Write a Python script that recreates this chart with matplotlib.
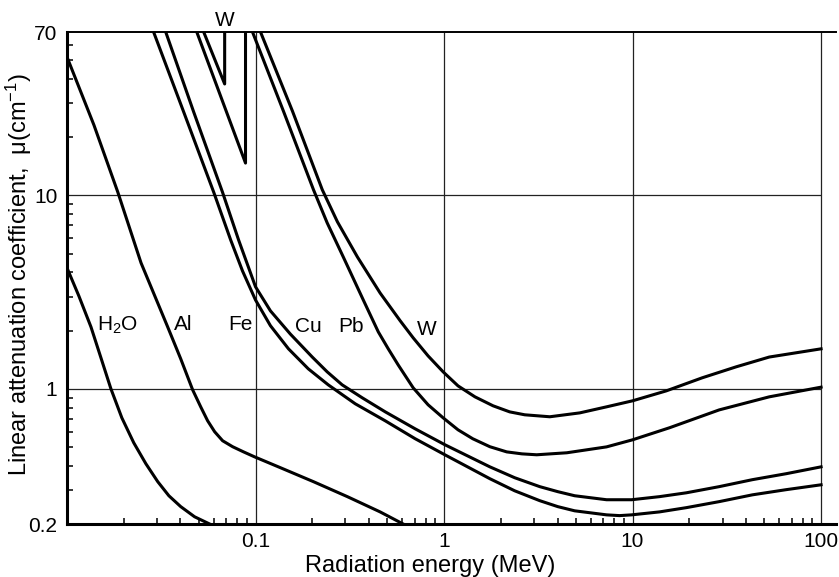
import matplotlib
matplotlib.use("Agg")
import matplotlib.pyplot as plt
from matplotlib.ticker import FixedLocator, LogLocator, NullFormatter

plt.rcParams["font.family"] = ["Liberation Sans", "DejaVu Sans"]
plt.rcParams["mathtext.fontset"] = "custom"
plt.rcParams["mathtext.rm"] = "Liberation Sans"
plt.rcParams["mathtext.it"] = "Liberation Sans:italic"
plt.rcParams["mathtext.default"] = "regular"

# ---- data (energy in MeV, mu in cm^-1) ----
h2o_e = [0.010, 0.01156, 0.0134, 0.01514, 0.0171, 0.01954, 0.0226, 0.0262,
         0.0303, 0.0347, 0.0401, 0.0475, 0.0571]
h2o_mu = [4.22, 3.02, 2.09, 1.446, 1.00, 0.708, 0.526, 0.410,
          0.331, 0.280, 0.246, 0.218, 0.200]

al_e = [0.010, 0.0139, 0.0186, 0.0247, 0.0342, 0.0401, 0.0464, 0.0512, 0.0557,
        0.0607, 0.0669, 0.0756, 0.0864, 0.0988, 0.1355, 0.203, 0.307, 0.458, 0.607]
al_mu = [52.0, 23.1, 10.4, 4.48, 2.09, 1.43, 0.988, 0.807, 0.684,
         0.600, 0.539, 0.502, 0.472, 0.445, 0.391, 0.331, 0.277, 0.231, 0.200]

fe_e = [0.0288, 0.0416, 0.0600, 0.0738, 0.0853, 0.100, 0.120, 0.1496, 0.1905,
        0.243, 0.338, 0.488, 0.703, 1.01, 1.75, 2.37, 3.22, 4.01, 4.93, 7.28,
        8.53, 9.88, 13.9, 19.3, 28.8, 43.2, 65.3, 100]
fe_mu = [70.0, 27.0, 10.4, 5.89, 4.07, 2.88, 2.12, 1.61, 1.269,
         1.049, 0.837, 0.683, 0.552, 0.456, 0.343, 0.297, 0.264, 0.246, 0.234, 0.223,
         0.221, 0.223, 0.231, 0.243, 0.261, 0.283, 0.301, 0.319]

cu_e = [0.0334, 0.0470, 0.0668, 0.0813, 0.100, 0.120, 0.153, 0.200, 0.240,
        0.288, 0.368, 0.488, 0.703, 1.01, 1.75, 2.37, 3.22, 4.01, 4.93, 7.28,
        9.88, 13.9, 19.3, 28.8, 43.2, 65.3, 100]
cu_mu = [70.0, 27.0, 10.4, 5.89, 3.37, 2.53, 1.92, 1.46, 1.224,
         1.049, 0.899, 0.760, 0.621, 0.514, 0.395, 0.347, 0.312, 0.294, 0.280, 0.267,
         0.267, 0.277, 0.290, 0.312, 0.339, 0.364, 0.395]

# Pb: below and above the K edge
pb_lo_e = [0.0488, 0.0885, 0.0885]
pb_lo_mu = [70.0, 14.7, 70.0]
pb_hi_e = [0.0964, 0.1406, 0.203, 0.240, 0.292, 0.373, 0.448, 0.506, 0.571, 0.686,
           0.823, 0.989, 1.186, 1.42, 1.75, 2.15, 2.59, 3.10, 4.48, 7.28,
           10.0, 15.7, 28.8, 53.1, 100]
pb_hi_mu = [70.0, 27.3, 10.7, 7.21, 4.81, 2.88, 1.97, 1.61, 1.33, 1.012,
            0.827, 0.708, 0.614, 0.552, 0.502, 0.472, 0.461, 0.456, 0.467, 0.501,
            0.545, 0.629, 0.778, 0.909, 1.02]

# W: below and above the K edge
w_lo_e = [0.0531, 0.0686, 0.0686]
w_lo_mu = [70.0, 37.7, 70.0]
w_hi_e = [0.1063, 0.157, 0.226, 0.272, 0.347, 0.458, 0.585, 0.686, 0.823, 0.989,
          1.186, 1.459, 1.82, 2.23, 2.68, 3.64, 5.25, 7.28, 10.0, 15.1,
          23.4, 35.5, 53.1, 100]
w_hi_mu = [70.0, 27.3, 10.7, 7.30, 4.81, 3.13, 2.25, 1.835, 1.48, 1.224,
           1.036, 0.909, 0.817, 0.760, 0.734, 0.717, 0.751, 0.807, 0.867, 0.976,
           1.14, 1.30, 1.46, 1.61]

# curve labels: (text, energy, mu)
labels = [("H$_2$O", 0.0186, 2.12), ("Al", 0.0411, 2.14), ("Fe", 0.0833, 2.14),
          ("Cu", 0.191, 2.09), ("Pb", 0.322, 2.09), ("W", 0.813, 2.02),
          ("W", 0.0686, 79.8)]

x_ticks = [0.1, 1, 10, 100]
x_ticklabels = ["0.1", "1", "10", "100"]
y_ticks = [0.2, 1, 10, 70]
y_ticklabels = ["0.2", "1", "10", "70"]

W_PX, H_PX = 839, 577
fig = plt.figure(figsize=(W_PX / 100, H_PX / 100), dpi=100)
ax = fig.add_axes([67 / W_PX, 1 - 524 / H_PX, (836 - 67) / W_PX, (524 - 32) / H_PX])
ax.set_xscale("log")
ax.set_yscale("log")
ax.set_xlim(0.01, 120)
ax.set_ylim(0.2, 70)

# grid
ax.hlines([1, 10], 0.01, 100, color="#222222", lw=0.9, zorder=1)
ax.vlines([0.1, 1, 10, 100], 0.2, 70, color="#222222", lw=0.9, zorder=1)

lw = 2.2
for e, mu in [(h2o_e, h2o_mu), (al_e, al_mu), (fe_e, fe_mu), (cu_e, cu_mu),
              (pb_lo_e, pb_lo_mu), (pb_hi_e, pb_hi_mu),
              (w_lo_e, w_lo_mu), (w_hi_e, w_hi_mu)]:
    ax.plot(e, mu, color="black", lw=lw, zorder=3)

for txt, e, mu in labels:
    ax.text(e, mu, txt, fontsize=15, ha="center", va="center", clip_on=False)

# ticks
ax.xaxis.set_major_locator(FixedLocator(x_ticks))
ax.set_xticklabels(x_ticklabels)
ax.yaxis.set_major_locator(FixedLocator(y_ticks))
ax.set_yticklabels(y_ticklabels)
ax.xaxis.set_minor_locator(LogLocator(base=10, subs=range(2, 10)))
ax.yaxis.set_minor_locator(LogLocator(base=10, subs=range(2, 10)))
ax.xaxis.set_minor_formatter(NullFormatter())
ax.yaxis.set_minor_formatter(NullFormatter())
ax.tick_params(which="major", length=0, labelsize=15)
ax.tick_params(axis="x", which="major", pad=6)
ax.tick_params(axis="y", which="major", pad=7)
ax.tick_params(which="minor", direction="in", length=4, width=1.1)

for side in ["left", "bottom"]:
    ax.spines[side].set_linewidth(2.2)
ax.spines["top"].set_linewidth(1.4)
ax.spines["right"].set_visible(False)

fig.text(430 / W_PX, 1 - 572 / H_PX, "Radiation energy (MeV)", fontsize=17,
         ha="center", va="baseline")
fig.text(19 / W_PX, 1 - 275 / H_PX, "Linear attenuation coefficient,  \u03bc(cm$^{-1}$)",
         fontsize=17, rotation=90, ha="center", va="center")

fig.savefig("out.png", dpi=100)
